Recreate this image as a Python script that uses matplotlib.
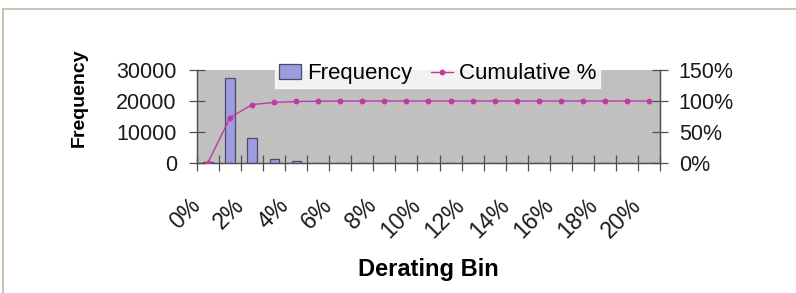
import matplotlib.pyplot as plt
from matplotlib.lines import Line2D

plt.rcParams['font.family'] = ['Liberation Sans', 'DejaVu Sans']

# derating bins 0% .. 20%
bins = ['%d%%' % i for i in range(21)]
frequency = [300, 27500, 8000, 1300, 600, 150, 100, 50, 0, 0, 0,
             0, 0, 0, 0, 0, 0, 0, 0, 0, 0]
cumulative = [0.8, 73.2, 94.2, 97.6, 99.2, 99.6, 99.9, 100, 100, 100, 100,
              100, 100, 100, 100, 100, 100, 100, 100, 100, 100]
freq_ticks = [0, 10000, 20000, 30000]
pct_ticks = [0, 50, 100, 150]

fig = plt.figure(figsize=(7.96, 2.93), dpi=100)
ax = fig.add_axes([197 / 796, 1 - 163 / 293, 463 / 796, 93 / 293])
ax2 = ax.twinx()

x = list(range(len(bins)))
bars = ax.bar(x, frequency, width=0.42, color='#9c9cde', edgecolor='#4a4a70',
              linewidth=0.9, label='Frequency', zorder=3)
line, = ax2.plot(x, cumulative, color='#c2399f', marker='o', markersize=3.2,
                 linewidth=1.0, label='Cumulative %', zorder=4)

ax.set_facecolor('#c0c0c0')
ax.set_xlim(-0.5, len(bins) - 0.5)
ax.set_ylim(0, 30000)
ax2.set_ylim(0, 150)

ax.set_yticks(freq_ticks)
ax.set_yticklabels([str(v) for v in freq_ticks])
ax2.set_yticks(pct_ticks)
ax2.set_yticklabels(['%d%%' % v for v in pct_ticks])

# boundary ticks between categories, labels on every other bin
ax.set_xticks([i - 0.5 for i in range(len(bins) + 1)])
ax.set_xticklabels([])
ax.tick_params(axis='x', direction='inout', length=12, width=0.9, color='#505050')
for i in range(0, len(bins), 2):
    ax.text(i - 0.5, -0.42, bins[i], transform=ax.get_xaxis_transform(),
            rotation=45, ha='right', va='center', rotation_mode='anchor',
            fontsize=16.5, color='#1a1a1a')

ax.tick_params(axis='y', direction='inout', length=11, width=0.9, color='#505050',
               labelsize=15.5, pad=9, labelcolor='#1a1a1a')
ax2.tick_params(axis='y', direction='inout', length=11, width=0.9, color='#505050',
                labelsize=15.5, pad=8, labelcolor='#1a1a1a')

for a in (ax, ax2):
    a.spines['top'].set_visible(False)
    for s in ('left', 'right', 'bottom'):
        a.spines[s].set_color('#505050')
        a.spines[s].set_linewidth(0.9)

ax.set_ylabel('Frequency', fontsize=14, fontweight='bold')
ax.yaxis.set_label_coords(-0.235, 0.70)
ax.set_xlabel('Derating Bin', fontsize=17, fontweight='bold')
ax.xaxis.set_label_coords(0.5, -1.02)

leg = ax2.legend([bars, line], ['Frequency', 'Cumulative %'], ncol=2,
                 loc='center', bbox_to_anchor=(0.52, 0.957), frameon=True,
                 fontsize=16, handlelength=1.0, handletextpad=0.3,
                 columnspacing=0.8, borderpad=0.15, fancybox=False)
leg.get_frame().set_facecolor('white')
leg.get_frame().set_edgecolor('white')
leg.set_zorder(10)

# outer frame lines
fig.add_artist(Line2D([3 / 796, 1], [1 - 8.5 / 293, 1 - 8.5 / 293],
                      color='#c8b8a4', linewidth=1.2))
fig.add_artist(Line2D([3 / 796, 3 / 796], [0, 1 - 8.5 / 293],
                      color='#c8b8a4', linewidth=1.2))

fig.savefig('out.png', dpi=100)
